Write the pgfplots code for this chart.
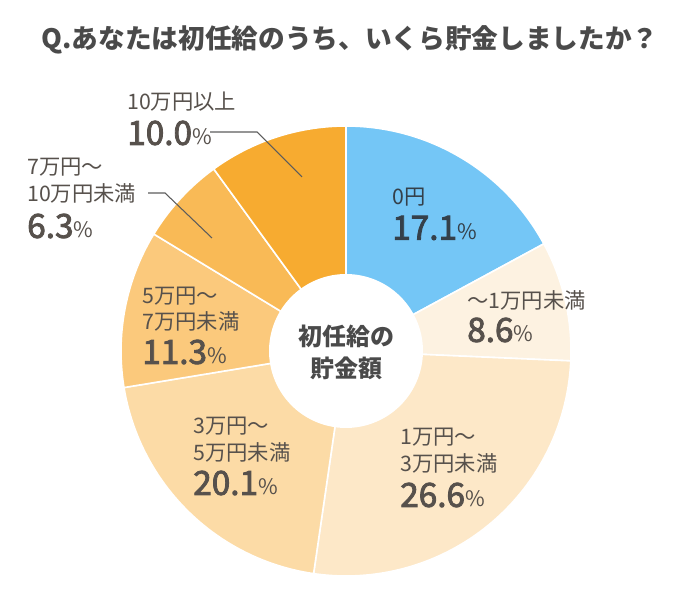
\documentclass[border=0pt]{standalone}
\usepackage{pgfplots}
\pgfplotsset{compat=1.18}
\usepackage{pgfplotstable}
\usepackage{fontspec}
\setmainfont{Noto Sans CJK JP}
\newfontfamily\numfont{Noto Sans CJK JP}[FakeBold=2.5]

\definecolor{c0}{HTML}{74C6F6}
\definecolor{c1}{HTML}{FDF2E1}
\definecolor{c2}{HTML}{FDE8C8}
\definecolor{c3}{HTML}{FCDBA6}
\definecolor{c4}{HTML}{FBC97C}
\definecolor{c5}{HTML}{F9BA56}
\definecolor{c6}{HTML}{F7AB30}
\definecolor{txt}{HTML}{57514C}
\definecolor{txtb}{HTML}{34404A}
\definecolor{ttl}{HTML}{4A4A4A}

% share of each answer (%), clockwise from 12 o'clock
\pgfplotstableread{
label share
0円 17.1
～1万円未満 8.6
1万円～3万円未満 26.6
3万円～5万円未満 20.1
5万円～7万円未満 11.3
7万円～10万円未満 6.3
10万円以上 10.0
}\piedata

% centre (346,259), radius 225, hole 77 -- pixel units of the picture
\newcommand{\slice}[3]{% cumulative start, cumulative end, colour
  \addplot[fill=#3, draw=white, line width=1.2pt, domain={90-3.6*(#2)}:{90-3.6*(#1)},
    samples=80, variable=\t]
    ({346+225*cos(\t)},{259+225*sin(\t)}) -- (axis cs:346,259) -- cycle;
}
\newcommand{\lab}[4][txt]{% colour, x, y, text
  \node[anchor=west, inner sep=0pt, text=#1, align=left] at (axis cs:#2,#3) {#4};
}

\begin{document}
\begin{tikzpicture}
\begin{axis}[
    width=525pt, height=457.5pt, scale only axis,
    xmin=0, xmax=700, ymin=0, ymax=610,
    hide axis, clip=false,
]
% cumulative sums of the shares
\pgfplotstablegetelem{0}{share}\of\piedata \let\sa\pgfplotsretval
\pgfplotstablegetelem{1}{share}\of\piedata \let\sb\pgfplotsretval
\pgfplotstablegetelem{2}{share}\of\piedata \let\sc\pgfplotsretval
\pgfplotstablegetelem{3}{share}\of\piedata \let\sd\pgfplotsretval
\pgfplotstablegetelem{4}{share}\of\piedata \let\se\pgfplotsretval
\pgfplotstablegetelem{5}{share}\of\piedata \let\sf\pgfplotsretval
\pgfplotstablegetelem{6}{share}\of\piedata \let\sg\pgfplotsretval

\slice{0}{\sa}{c0}
\slice{\sa}{\sa+\sb}{c1}
\slice{\sa+\sb}{\sa+\sb+\sc}{c2}
\slice{\sa+\sb+\sc}{\sa+\sb+\sc+\sd}{c3}
\slice{\sa+\sb+\sc+\sd}{\sa+\sb+\sc+\sd+\se}{c4}
\slice{\sa+\sb+\sc+\sd+\se}{\sa+\sb+\sc+\sd+\se+\sf}{c5}
\slice{\sa+\sb+\sc+\sd+\se+\sf}{100}{c6}

% hole
\addplot[fill=white, draw=none, domain=0:360, samples=120, variable=\t]
  ({346+77*cos(\t)},{259+77*sin(\t)});

% leader lines
\addplot[color=ttl!90, line width=0.8pt] coordinates {(210,478) (257,478) (302,433)};
\addplot[color=ttl!90, line width=0.8pt] coordinates {(148,417) (165,417) (212,372)};

% title
\node[text=ttl, font=\bfseries\fontsize{20}{24}\selectfont] at (axis cs:350,570)
  {Q.あなたは初任給のうち、いくら貯金しましたか？};

% centre text
\node[text=ttl, font=\bfseries\fontsize{18}{24}\selectfont, align=center] at (axis cs:346,258)
  {初任給の\\貯金額};

% labels
\def\sm{\fontsize{16}{19}\selectfont}
\def\bg#1{{\numfont\fontsize{25}{27}\selectfont #1}{\fontsize{16}{18}\selectfont\%}}

\lab{127}{508}{\sm 10万円以上}
\lab{127}{477}{\bg{10.0}}

\lab{27}{443}{\sm 7万円～}
\lab{27}{417}{\sm 10万円未満}
\lab{27}{384}{\bg{6.3}}

\lab[txtb]{392}{413}{\sm 0円}
\lab[txtb]{392}{382}{\bg{17.1}}

\lab{467}{310}{\sm ～1万円未満}
\lab{467}{280}{\bg{8.6}}

\lab{142}{314}{\sm 5万円～}
\lab{142}{289}{\sm 7万円未満}
\lab{142}{258}{\bg{11.3}}

\lab{193}{184}{\sm 3万円～}
\lab{193}{158}{\sm 5万円未満}
\lab{193}{127}{\bg{20.1}}

\lab{400}{173}{\sm 1万円～}
\lab{400}{147}{\sm 3万円未満}
\lab{400}{115}{\bg{26.6}}
\end{axis}
\path (current axis.south west) rectangle (current axis.north east);
\end{tikzpicture}
\end{document}
